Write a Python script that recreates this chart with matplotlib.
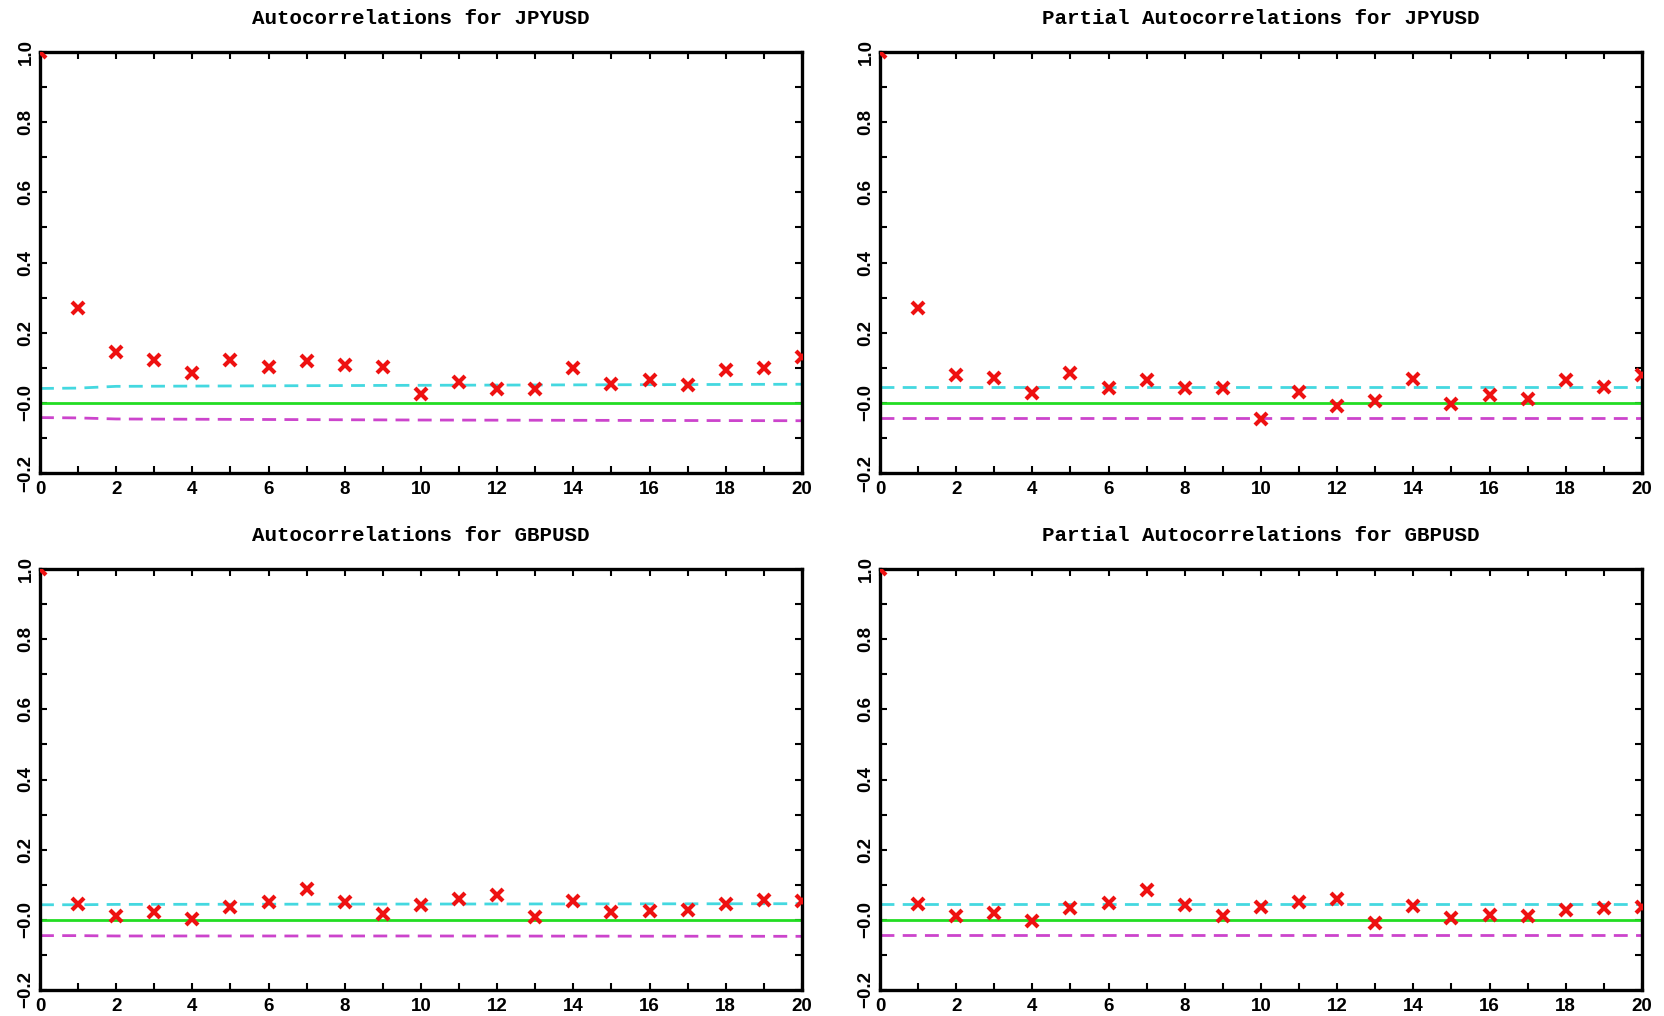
"""
ACF / PACF of JPYUSD and GBPUSD
"""
import matplotlib
matplotlib.use('Agg')
from matplotlib import pyplot as plt
from matplotlib.ticker import FixedLocator, FixedFormatter, MultipleLocator

lags = list(range(21))

# values, lag 0..20
acfJpy = [1.0, 0.271, 0.146, 0.122, 0.084, 0.123, 0.103, 0.118, 0.108, 0.103,
          0.026, 0.060, 0.040, 0.039, 0.100, 0.055, 0.064, 0.052, 0.093, 0.098, 0.132]
pacfJpy = [1.0, 0.271, 0.078, 0.070, 0.027, 0.086, 0.042, 0.066, 0.043, 0.043,
           -0.046, 0.031, -0.010, 0.005, 0.067, -0.002, 0.021, 0.012, 0.065, 0.045, 0.078]
acfGbp = [1.0, 0.046, 0.012, 0.021, 0.001, 0.037, 0.052, 0.089, 0.051, 0.017,
          0.043, 0.058, 0.070, 0.008, 0.053, 0.021, 0.024, 0.029, 0.044, 0.056, 0.054]
pacfGbp = [1.0, 0.046, 0.011, 0.020, -0.002, 0.035, 0.048, 0.084, 0.043, 0.011,
           0.036, 0.052, 0.060, -0.010, 0.040, 0.005, 0.013, 0.010, 0.027, 0.033, 0.038]

# confidence bands (lag, upper, lower)
bandLags = [0, 1, 2, 10, 20]
acfJpyUp = [0.041, 0.042, 0.047, 0.050, 0.053]
acfJpyLo = [-0.042, -0.043, -0.046, -0.049, -0.051]
acfGbpUp = [0.043, 0.043, 0.044, 0.045, 0.046]
acfGbpLo = [-0.045, -0.045, -0.046, -0.046, -0.047]
pacfUp = [0.044, 0.044, 0.044, 0.044, 0.044]
pacfLo = [-0.044, -0.044, -0.044, -0.044, -0.044]

titles = ['Autocorrelations for JPYUSD', 'Partial Autocorrelations for JPYUSD',
          'Autocorrelations for GBPUSD', 'Partial Autocorrelations for GBPUSD']
yTicks = [-0.2, 0.0, 0.2, 0.4, 0.6, 0.8, 1.0]
yLabels = ['\u22120.2', '\u22120.0', '0.2', '0.4', '0.6', '0.8', '1.0']
xTicks = [0, 2, 4, 6, 8, 10, 12, 14, 16, 18, 20]

W, H = 1665, 1016
# axes boxes in pixels: left, top, right, bottom
boxes = [(40, 52, 802, 473), (880, 52, 1642, 473),
         (40, 569, 802, 990), (880, 569, 1642, 990)]


def draw_one(fig, box, title, vals, up, lo):
    """ 画单个相关图 """
    l, t, r, b = box
    ax = fig.add_axes([l / W, 1 - b / H, (r - l) / W, (b - t) / H])
    ax.set_xlim(0, 20)
    ax.set_ylim(-0.2, 1.0)
    ax.axhline(0, color='#22dd22', linewidth=2, zorder=2)
    ax.plot(bandLags, up, color='#44d8e0', linewidth=2, dashes=(5, 3), zorder=2)
    ax.plot(bandLags, lo, color='#cc44cc', linewidth=2, dashes=(5, 3), zorder=2)
    ax.plot(lags, vals, linestyle='none', marker='x', markersize=8,
            markeredgewidth=3, color='#ee1111', zorder=3)
    for s in ax.spines.values():
        s.set_linewidth(2.4)
    ax.xaxis.set_major_locator(FixedLocator(xTicks))
    ax.xaxis.set_minor_locator(MultipleLocator(1))
    ax.yaxis.set_major_locator(FixedLocator(yTicks))
    ax.yaxis.set_major_formatter(FixedFormatter(yLabels))
    ax.yaxis.set_minor_locator(MultipleLocator(0.1))
    ax.tick_params(which='both', direction='in', top=True, right=True,
                   length=5, width=1.5)
    ax.tick_params(axis='x', pad=6)
    ax.tick_params(axis='y', pad=4)
    for lab in ax.get_xticklabels() + ax.get_yticklabels():
        lab.set_fontfamily('Liberation Sans')
        lab.set_fontweight('bold')
        lab.set_fontsize(13.5)
    for lab in ax.get_yticklabels():
        lab.set_rotation(90)
        lab.set_verticalalignment('center')
    ax.set_title(title, fontfamily='Liberation Mono', fontweight='bold',
                 fontsize=15, pad=20)
    return ax


fig = plt.figure(figsize=(W / 100, H / 100), dpi=100)
series = [(acfJpy, acfJpyUp, acfJpyLo), (pacfJpy, pacfUp, pacfLo),
          (acfGbp, acfGbpUp, acfGbpLo), (pacfGbp, pacfUp, pacfLo)]
for i in range(4):
    draw_one(fig, boxes[i], titles[i], *series[i])
fig.savefig('out.png', dpi=100)
